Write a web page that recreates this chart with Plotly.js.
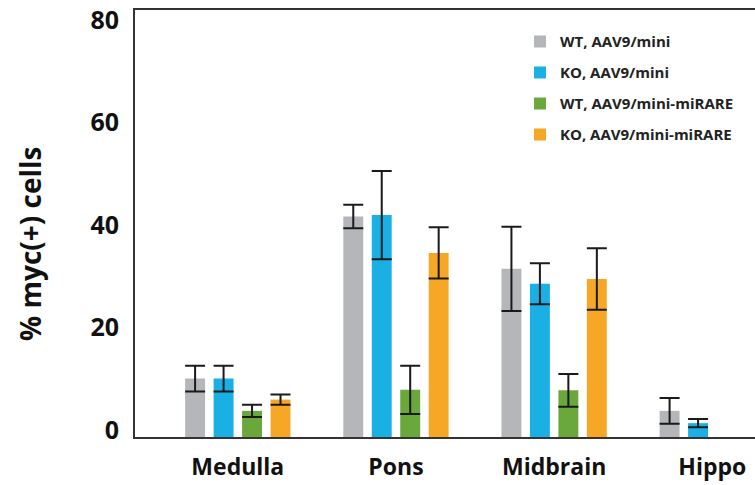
<!DOCTYPE html>
<html>
<head>
<meta charset="utf-8">
<script src="https://cdn.plot.ly/plotly-3.0.1.min.js"></script>
<style>html,body{margin:0;padding:0;background:#fff;}#chart{width:755px;height:485px;}</style>
</head>
<body>
<div id="chart"></div>
<script>
const categories = ["Medulla", "Pons", "Midbrain", "Hippo"];
const seriesNames = ["WT, AAV9/mini", "KO, AAV9/mini", "WT, AAV9/mini-miRARE", "KO, AAV9/mini-miRARE"];
const seriesColors = ["#b4b6b9", "#1ab0e4", "#6aa83c", "#f6a726"];
const wtMini = [11.4, 43.0, 32.8, 5.1];
const wtMiniErr = [2.5, 2.3, 8.2, 2.5];
const koMini = [11.4, 43.3, 29.9, 2.7];
const koMiniErr = [2.5, 8.6, 4.0, 0.8];
const wtMiniRare = [5.1, 9.2, 9.1, null];
const wtMiniRareErr = [1.2, 4.7, 3.2, null];
const koMiniRare = [7.3, 35.9, 30.8, null];
const koMiniRareErr = [1.0, 5.0, 6.0, null];
const yTicks = [0, 20, 40, 60, 80];
const yTitle = "% myc(+) cells";

const values = [wtMini, koMini, wtMiniRare, koMiniRare];
const errs = [wtMiniErr, koMiniErr, wtMiniRareErr, koMiniRareErr];

const traces = values.map((v, i) => ({
  type: "bar",
  name: seriesNames[i],
  legendgroup: "g" + i,
  x: categories,
  y: v,
  marker: {color: seriesColors[i]},
  error_y: {type: "data", array: errs[i], visible: true, color: "#1a1a1a", thickness: 2, width: 10}
}));

const layout = {
  width: 755, height: 485,
  margin: {l: 135, r: 0, t: 10, b: 48},
  paper_bgcolor: "#fff", plot_bgcolor: "#fff",
  barmode: "group",
  bargap: 0.28,
  bargroupgap: 0.3,
  font: {family: "Open Sans, DejaVu Sans, sans-serif", color: "#111"},
  showlegend: true,
  legend: {x: 0.621, y: 0.964, xanchor: "left", yanchor: "top", bgcolor: "rgba(0,0,0,0)",
           font: {size: 15, weight: "bold", color: "#222"}, tracegroupgap: 8.5, itemwidth: 30},
  xaxis: {
    type: "category", range: [-0.65, 3.27],
    showline: true, linecolor: "#333", linewidth: 2, mirror: true,
    ticks: "", showgrid: false, zeroline: false,
    tickfont: {size: 23, weight: "bold", color: "#111"},
    ticklabelstandoff: 8
  },
  yaxis: {
    range: [0, 83.3],
    tickvals: yTicks, ticktext: yTicks.map(String),
    showline: true, linecolor: "#333", linewidth: 2,
    ticks: "", showgrid: false, zeroline: false,
    tickfont: {size: 25, weight: "bold", color: "#111"},
    ticklabelstandoff: 9, ticklabelshift: -7
  },
  annotations: [{
    text: yTitle, textangle: -90, showarrow: false,
    xref: "paper", yref: "paper", x: 0, y: 0.452, xanchor: "center", yanchor: "middle",
    xshift: -105,
    font: {size: 28, weight: "bold", color: "#111"}
  }]
};

Plotly.newPlot("chart", traces, layout, {displayModeBar: false, staticPlot: true});
</script>
</body>
</html>
